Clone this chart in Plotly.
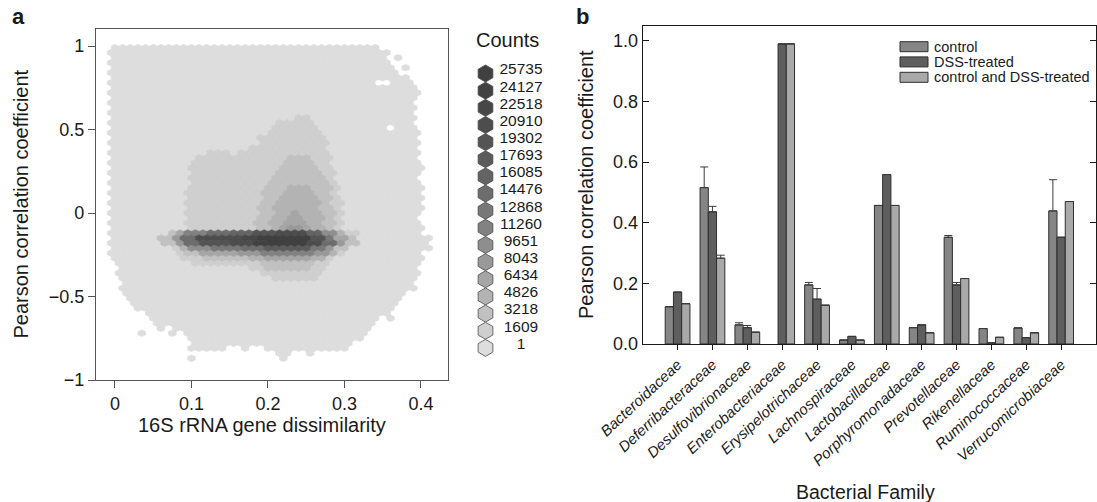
import plotly.graph_objects as go

W, H = 1097, 502
FONT = "Liberation Sans, Arial, Helvetica, sans-serif"

# ---------------- panel a: hexagonal binning ----------------
# Count legend (lower edge of each count class)
COUNT_BREAKS = [1, 1609, 3218, 4826, 6434, 8043, 9651, 11260, 12868,
                14476, 16085, 17693, 19302, 20910, 22518, 24127, 25735]

# Hexagon grid: columns every 0.01 in x, rows every 0.03 in y,
# odd rows shifted by half a column.
HEX_DX = 0.01
HEX_DY = 0.03
HEX_X0 = -0.01
HEX_NCOLS = 44

# One entry per hexagon row: (row y, [(x where a run starts, count class), ...])
# count class 0 = empty, 1..17 = index into COUNT_BREAKS (+1)
HEX_ROWS = [
    (0.99, [(-0.006, 1), (0.347, 0)]),
    (0.96, [(-0.006, 1), (0.349, 0), (0.352, 1), (0.358, 0)]),
    (0.93, [(-0.006, 1), (0.353, 0), (0.365, 1), (0.372, 0)]),
    (0.90, [(-0.006, 1), (0.362, 0)]),
    (0.87, [(-0.006, 1), (0.366, 0), (0.375, 1), (0.382, 0)]),
    (0.84, [(-0.006, 1), (0.374, 0)]),
    (0.81, [(-0.006, 1), (0.382, 0)]),
    (0.78, [(-0.006, 1), (0.342, 0), (0.358, 1), (0.388, 0)]),
    (0.75, [(-0.006, 1), (0.392, 0)]),
    (0.72, [(-0.006, 1), (0.396, 0)]),
    (0.69, [(-0.006, 1), (0.396, 0)]),
    (0.66, [(-0.006, 1), (0.392, 0)]),
    (0.63, [(-0.006, 1), (0.392, 0)]),
    (0.60, [(-0.006, 1), (0.392, 0)]),
    (0.57, [(-0.006, 1), (0.232, 2), (0.252, 1), (0.394, 0)]),
    (0.54, [(-0.006, 1), (0.213, 2), (0.262, 1), (0.394, 0)]),
    (0.51, [(-0.006, 1), (0.203, 2), (0.264, 1), (0.352, 0), (0.368, 1), (0.396, 0)]),
    (0.48, [(-0.006, 1), (0.196, 2), (0.270, 1), (0.396, 0)]),
    (0.45, [(-0.006, 1), (0.190, 2), (0.274, 1), (0.396, 0)]),
    (0.42, [(-0.006, 1), (0.186, 2), (0.276, 1), (0.396, 0)]),
    (0.39, [(-0.006, 1), (0.178, 2), (0.278, 1), (0.398, 0)]),
    (0.36, [(-0.006, 1), (0.122, 2), (0.147, 1), (0.162, 2), (0.280, 1), (0.398, 0)]),
    (0.33, [(-0.006, 1), (0.108, 2), (0.228, 3), (0.252, 2), (0.282, 1), (0.398, 0)]),
    (0.30, [(-0.006, 1), (0.101, 2), (0.218, 3), (0.262, 2), (0.282, 1), (0.402, 0)]),
    (0.27, [(-0.006, 1), (0.098, 2), (0.212, 3), (0.268, 2), (0.284, 1), (0.402, 0)]),
    (0.24, [(-0.006, 1), (0.097, 2), (0.207, 3), (0.272, 2), (0.286, 1), (0.400, 0)]),
    (0.21, [(-0.006, 1), (0.097, 2), (0.203, 3), (0.276, 2), (0.288, 1), (0.399, 0)]),
    (0.18, [(-0.006, 1), (0.096, 2), (0.199, 3), (0.278, 2), (0.290, 1), (0.399, 0)]),
    (0.15, [(-0.006, 1), (0.096, 2), (0.196, 3), (0.227, 4), (0.252, 3), (0.281, 2), (0.292, 1), (0.402, 0)]),
    (0.12, [(-0.006, 1), (0.095, 2), (0.194, 3), (0.221, 4), (0.258, 3), (0.282, 2), (0.293, 1), (0.402, 0)]),
    (0.09, [(-0.006, 1), (0.095, 2), (0.192, 3), (0.217, 4), (0.262, 3), (0.283, 2), (0.295, 1), (0.402, 0)]),
    (0.06, [(-0.006, 1), (0.094, 2), (0.189, 3), (0.213, 4), (0.266, 3), (0.284, 2), (0.296, 1), (0.402, 0)]),
    (0.03, [(-0.006, 1), (0.094, 2), (0.187, 3), (0.209, 4), (0.268, 3), (0.285, 2), (0.298, 1), (0.402, 0)]),
    (0.00, [(-0.006, 1), (0.094, 2), (0.186, 3), (0.207, 4), (0.227, 5), (0.238, 4), (0.270, 3),
            (0.286, 2), (0.298, 1), (0.398, 0)]),
    (-0.03, [(-0.006, 1), (0.094, 2), (0.184, 3), (0.205, 4), (0.222, 5), (0.247, 4), (0.271, 3),
             (0.287, 2), (0.299, 1), (0.398, 0)]),
    (-0.06, [(-0.006, 1), (0.094, 2), (0.136, 3), (0.144, 2), (0.183, 3), (0.204, 4), (0.219, 5),
             (0.252, 4), (0.272, 3), (0.287, 2), (0.299, 1), (0.399, 0)]),
    (-0.09, [(-0.006, 1), (0.092, 2), (0.182, 3), (0.202, 4), (0.217, 5), (0.229, 6), (0.248, 5),
             (0.258, 4), (0.272, 3), (0.287, 2), (0.299, 1), (0.402, 0)]),
    (-0.12, [(-0.006, 1), (0.066, 3), (0.080, 5), (0.095, 8), (0.120, 10), (0.150, 11), (0.185, 13),
             (0.215, 14), (0.255, 11), (0.272, 7), (0.290, 4), (0.305, 2), (0.318, 1), (0.404, 0)]),
    (-0.15, [(-0.006, 1), (0.060, 3), (0.072, 6), (0.088, 10), (0.105, 14), (0.165, 15), (0.190, 17),
             (0.258, 13), (0.275, 9), (0.290, 5), (0.305, 3), (0.318, 1), (0.414, 0)]),
    (-0.18, [(-0.006, 1), (0.064, 3), (0.078, 6), (0.092, 10), (0.108, 13), (0.150, 14), (0.185, 16),
             (0.200, 17), (0.255, 14), (0.272, 10), (0.288, 6), (0.302, 3), (0.316, 1), (0.414, 0)]),
    (-0.21, [(-0.006, 1), (0.072, 2), (0.085, 4), (0.100, 7), (0.125, 9), (0.170, 10), (0.195, 12),
             (0.260, 9), (0.276, 6), (0.290, 3), (0.305, 1), (0.412, 0)]),
    (-0.24, [(-0.006, 1), (0.082, 2), (0.094, 3), (0.115, 5), (0.165, 6), (0.195, 8), (0.262, 6),
             (0.276, 4), (0.290, 2), (0.300, 1), (0.402, 0)]),
    (-0.27, [(-0.002, 1), (0.088, 2), (0.115, 3), (0.175, 4), (0.198, 5), (0.258, 4), (0.272, 2),
             (0.285, 1), (0.402, 0)]),
    (-0.30, [(0.002, 1), (0.098, 2), (0.188, 3), (0.265, 2), (0.278, 1), (0.402, 0)]),
    (-0.33, [(0.002, 1), (0.178, 2), (0.198, 3), (0.252, 2), (0.274, 1), (0.398, 0)]),
    (-0.36, [(0.004, 1), (0.193, 2), (0.272, 1), (0.396, 0)]),
    (-0.39, [(0.004, 1), (0.208, 2), (0.266, 1), (0.394, 0)]),
    (-0.42, [(0.006, 1), (0.387, 0)]),
    (-0.45, [(0.008, 1), (0.384, 0), (0.390, 1), (0.398, 0)]),
    (-0.48, [(0.012, 1), (0.378, 0)]),
    (-0.51, [(0.016, 1), (0.374, 0)]),
    (-0.54, [(0.022, 1), (0.372, 0)]),
    (-0.57, [(0.028, 1), (0.366, 0), (0.372, 1), (0.378, 0)]),
    (-0.60, [(0.036, 1), (0.358, 0), (0.376, 1), (0.384, 0)]),
    (-0.63, [(0.044, 1), (0.348, 0), (0.360, 1), (0.366, 0)]),
    (-0.66, [(0.052, 1), (0.336, 0)]),
    (-0.69, [(0.056, 1), (0.070, 0), (0.078, 1), (0.333, 0)]),
    (-0.72, [(0.028, 1), (0.036, 0), (0.046, 1), (0.054, 0), (0.068, 1), (0.076, 0), (0.088, 1), (0.329, 0)]),
    (-0.75, [(0.092, 1), (0.323, 0)]),
    (-0.78, [(0.096, 1), (0.312, 0)]),
    (-0.81, [(0.098, 1), (0.142, 0), (0.162, 1), (0.178, 0), (0.198, 1), (0.302, 0)]),
    (-0.84, [(0.212, 1), (0.228, 0), (0.250, 1), (0.262, 0)]),
    (-0.87, [(0.094, 1), (0.104, 0), (0.212, 1), (0.226, 0)]),
    (-0.90, [(0.216, 1), (0.224, 0)]),
]

X_TICKS_A = [0, 0.1, 0.2, 0.3, 0.4]
X_TICKTEXT_A = ["0", "0.1", "0.2", "0.3", "0.4"]
Y_TICKS_A = [-1, -0.5, 0, 0.5, 1]
Y_TICKTEXT_A = ["\u22121", "\u22120.5", "0", "0.5", "1"]

# ---------------- panel b: bars ----------------
FAMILIES = ["Bacteroidaceae", "Deferribacteraceae", "Desulfovibrionaceae",
            "Enterobacteriaceae", "Erysipelotrichaceae", "Lachnospiraceae",
            "Lactobacillaceae", "Porphyromonadaceae", "Prevotellaceae",
            "Rikenellaceae", "Ruminococcaceae", "Verrucomicrobiaceae"]
CONTROL = [0.123, 0.516, 0.063, None, 0.195, 0.013, 0.457, 0.054, 0.352, 0.051, 0.053, 0.439]
CONTROL_ERR = [0, 0.068, 0.007, 0, 0.008, 0, 0, 0, 0.006, 0, 0, 0.103]
DSS = [0.171, 0.436, 0.054, 0.990, 0.148, 0.025, 0.559, 0.063, 0.195, 0.004, 0.021, 0.352]
DSS_ERR = [0, 0.018, 0.007, 0, 0.035, 0, 0, 0, 0.008, 0, 0, 0]
BOTH = [0.133, 0.283, 0.039, 0.990, 0.128, 0.013, 0.457, 0.037, 0.216, 0.022, 0.037, 0.470]
BOTH_ERR = [0, 0.010, 0, 0, 0, 0, 0, 0, 0, 0, 0, 0]
SERIES_NAMES = ["control", "DSS-treated", "control and DSS-treated"]
SERIES_COLORS = ["#858585", "#5e5e5e", "#a9a9a9"]
Y_TICKS_B = [0.0, 0.2, 0.4, 0.6, 0.8, 1.0]

# ---------------- geometry (pixels) ----------------
A_LEFT, A_RIGHT, A_TOP, A_BOTTOM = 96, 448, 29, 380
B_LEFT, B_RIGHT, B_TOP, B_BOTTOM = 642.7, 1096, 25.7, 344


def dom_x(a, b):
    return [a / W, b / W]


def dom_y(top, bottom):
    return [1 - bottom / H, 1 - top / H]


def gray(level):
    # light-to-dark gray ramp over the 17 count classes
    t = (level - 1) / (len(COUNT_BREAKS) - 1)
    g = round(64 + (221 - 64) * (1 - t) ** 1.5)
    return f"rgb({g},{g},{g})"


def level_at(runs, x):
    lev = 0
    for x0, l in runs:
        if x >= x0:
            lev = l
        else:
            break
    return lev


fig = go.Figure()

# hexagon cells, one filled trace per count class
cells = {lev: ([], []) for lev in range(1, len(COUNT_BREAKS) + 1)}
a = HEX_DX / 2
for r, (yc, runs) in enumerate(HEX_ROWS):
    shift = HEX_DX / 2 if r % 2 else 0.0
    for i in range(HEX_NCOLS):
        xc = round(HEX_X0 + shift + i * HEX_DX, 4)
        lev = level_at(runs, xc)
        if not lev:
            continue
        xs, ys = cells[lev]
        xs += [xc, xc + a, xc + a, xc, xc - a, xc - a, xc, None]
        ys += [yc + 2 * HEX_DY / 3, yc + HEX_DY / 3, yc - HEX_DY / 3, yc - 2 * HEX_DY / 3,
               yc - HEX_DY / 3, yc + HEX_DY / 3, yc + 2 * HEX_DY / 3, None]

for lev, (xs, ys) in cells.items():
    if not xs:
        continue
    c = gray(lev)
    fig.add_trace(go.Scatter(
        x=xs, y=ys, mode="lines", fill="toself", fillcolor=c,
        line=dict(color=c, width=0.6), hoverinfo="skip", showlegend=False,
        xaxis="x", yaxis="y"))

# grouped bars with upper error bars
for name, vals, errs, col in zip(SERIES_NAMES, [CONTROL, DSS, BOTH],
                                 [CONTROL_ERR, DSS_ERR, BOTH_ERR], SERIES_COLORS):
    fig.add_trace(go.Bar(
        x=FAMILIES, y=vals, name=name, xaxis="x2", yaxis="y2",
        marker=dict(color=col, line=dict(color="#2e2e2e", width=1)),
        error_y=dict(type="data", array=errs, arrayminus=[0] * len(errs),
                     symmetric=False, color="#3a3a3a", thickness=1, width=4),
        showlegend=False))

# count legend: hexagon keys on a pixel-unit overlay axis
KEY_X, KEY_LABEL_X = 485.5, 521
KEY_TOP, KEY_STEP = 70.5, 17.15
key_levels = list(range(len(COUNT_BREAKS), 0, -1))
key_y = [KEY_TOP + 3 + j * KEY_STEP for j in range(len(key_levels))]
fig.add_trace(go.Scatter(
    x=[KEY_X] * len(key_levels), y=key_y, mode="markers",
    marker=dict(symbol="hexagon", size=17, color=[gray(l) for l in key_levels],
                line=dict(color="#4a4a4a", width=0.8)),
    hoverinfo="skip", showlegend=False, xaxis="x3", yaxis="y3"))
fig.add_trace(go.Scatter(
    x=[KEY_LABEL_X] * len(key_levels), y=[y - 3 for y in key_y], mode="text",
    text=[str(COUNT_BREAKS[l - 1]) for l in key_levels], textposition="middle center",
    textfont=dict(family=FONT, size=15.5, color="#1a1a1a"),
    hoverinfo="skip", showlegend=False, xaxis="x3", yaxis="y3"))

axis_font = dict(family=FONT, size=18, color="#1a1a1a")

annotations = []


def label(text, x, y, size, **kw):
    annotations.append(dict(text=text, x=x, y=y, xref="x3", yref="y3", showarrow=False,
                            font=dict(family=FONT, size=size, color=kw.pop("color", "#1a1a1a")),
                            **kw))


label("<b>a</b>", 18, 16, 22)
label("<b>b</b>", 582, 16, 22)
label("Counts", 507.5, 40, 20)
label("Pearson correlation coefficient", 20, 204.5, 20, textangle=-90)
label("16S rRNA gene dissimilarity", 262, 425, 20)
label("Pearson correlation coefficient", 586, 185, 20, textangle=-90)
label("Bacterial Family", 865, 491.5, 19.5)

# bar legend: swatches + labels
shapes = []
LEG_X0, LEG_X1, LEG_H = 900, 928, 10
LEG_Y = [46.7, 61.9, 77.3]
for name, col, yc in zip(SERIES_NAMES, SERIES_COLORS, LEG_Y):
    shapes.append(dict(type="rect", xref="x3", yref="y3", x0=LEG_X0, x1=LEG_X1,
                       y0=yc - LEG_H / 2, y1=yc + LEG_H / 2, fillcolor=col,
                       line=dict(color="#2e2e2e", width=1)))
    label(name, 932, yc, 14.5, xanchor="left")

fig.update_layout(
    width=W, height=H, margin=dict(l=0, r=0, t=0, b=0, autoexpand=False),
    paper_bgcolor="white", plot_bgcolor="rgba(0,0,0,0)",
    barmode="group", bargap=0.29, bargroupgap=0.0,
    showlegend=False, annotations=annotations, shapes=shapes,
    font=dict(family=FONT, color="#1a1a1a"),
    xaxis=dict(domain=dom_x(A_LEFT, A_RIGHT), range=[-0.0248, 0.4353], automargin=False,
               tickvals=X_TICKS_A, ticktext=X_TICKTEXT_A, tickfont=axis_font,
               showgrid=False, zeroline=False, showline=True, mirror=True,
               linecolor="#555555", linewidth=1.2, ticks="outside", ticklen=7,
               tickcolor="#555555", tickwidth=1.2, anchor="y"),
    yaxis=dict(domain=dom_y(A_TOP, A_BOTTOM), range=[-1.0, 1.102], automargin=False,
               tickvals=Y_TICKS_A, ticktext=Y_TICKTEXT_A, tickfont=axis_font,
               showgrid=False, zeroline=False, showline=True, mirror=True,
               linecolor="#555555", linewidth=1.2, ticks="outside", ticklen=7,
               tickcolor="#555555", tickwidth=1.2, anchor="x"),
    xaxis2=dict(domain=dom_x(B_LEFT, B_RIGHT), type="category", range=[-1, 12], automargin=False,
                tickangle=-43, tickfont=dict(family=FONT, size=15, color="#1a1a1a", style="italic"),
                showgrid=False, zeroline=False, showline=True, mirror=True,
                linecolor="#1a1a1a", linewidth=1.2, ticks="outside", ticklen=5,
                tickcolor="#1a1a1a", tickwidth=1.2, anchor="y2"),
    yaxis2=dict(domain=dom_y(B_TOP, B_BOTTOM), range=[0, 1.05], automargin=False,
                tickvals=Y_TICKS_B, tickformat=".1f", tickfont=axis_font,
                showgrid=False, zeroline=False, showline=True, mirror="ticks",
                linecolor="#1a1a1a", linewidth=1.2, ticks="inside", ticklen=6,
                tickcolor="#1a1a1a", tickwidth=1.2, anchor="x2"),
    xaxis3=dict(domain=[0, 1], range=[0, W], visible=False, fixedrange=True,
                automargin=False, anchor="y3"),
    yaxis3=dict(domain=[0, 1], range=[H, 0], visible=False, fixedrange=True,
                automargin=False, anchor="x3"),
)

fig.write_html("out.html")
